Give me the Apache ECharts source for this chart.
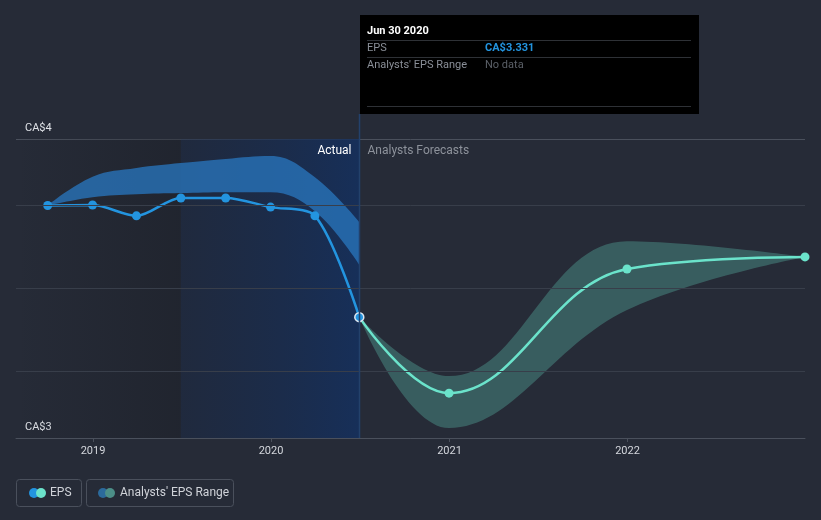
<!DOCTYPE html>
<html>
<head>
<meta charset="utf-8">
<script src="https://cdn.jsdelivr.net/npm/echarts@6/dist/echarts.min.js"></script>
<style>
html,body{margin:0;padding:0;background:#262b37;}
#c{width:821px;height:520px;}
</style>
</head>
<body>
<div id="c"></div>
<script>
// ---- data ----
var actualDates = ['2018-09-30','2018-12-31','2019-03-31','2019-06-30','2019-09-30','2019-12-31','2020-03-31','2020-06-30'];
var actualEps   = [3.600, 3.601, 3.575, 3.618, 3.618, 3.596, 3.575, 3.331];
var pastRangeLow  = [3.600, 3.620, 3.627, 3.630, 3.632, 3.632, 3.586, 3.457];
var pastRangeHigh = [3.600, 3.669, 3.690, 3.702, 3.712, 3.719, 3.668, 3.560];

var forecastDates = ['2020-06-30','2020-12-31','2021-12-31','2022-12-31'];
var forecastEps   = [3.331, 3.148, 3.447, 3.476];
var forecastLow   = [3.331, 3.064, 3.348, 3.476];
var forecastHigh  = [3.331, 3.189, 3.514, 3.476];

var yearTicks = ['2019-01-01','2020-01-01','2021-01-01','2022-01-01'];
var yMin = 3.04, yMax = 3.76;
var gridValues = [3.2, 3.4, 3.6];
var xMinDate = '2018-07-27', xMaxDate = '2022-12-31';
var nowDate = '2020-06-30';
var tooltipTitle = 'Jun 30 2020';
var tooltipEps = 'CA$3.331';

function ts(s){ var p = s.split('-'); return Date.UTC(+p[0], +p[1]-1, +p[2]); }
function pairs(d, v){ return d.map(function(x,i){ return [ts(x), v[i]]; }); }
function diffPairs(d, hi, lo){ return d.map(function(x,i){ return [ts(x), +(hi[i]-lo[i]).toFixed(4)]; }); }

var FONT = 'Roboto, "Noto Sans", sans-serif';
var chart = echarts.init(document.getElementById('c'), null, {renderer:'canvas'});

var actualData = pairs(actualDates, actualEps);
actualData[actualData.length-1] = {value: actualData[actualData.length-1], itemStyle:{borderColor:'#dce6f0', borderWidth:1.5}};
var fcData = pairs(forecastDates, forecastEps);
fcData[0] = {value: fcData[0], symbol:'none'};

var option = {
  backgroundColor: '#262b37',
  animation: false,
  grid: {left:16, right:16, top:139, bottom:82, containLabel:false},
  xAxis: [{
    type: 'value',
    min: ts(xMinDate), max: ts(xMaxDate),
    axisLine: {show:true, onZero:false, lineStyle:{color:'#4a505c', width:1}},
    axisTick: {show:true, length:4, lineStyle:{color:'#4a505c'}, customValues: yearTicks.map(ts)},
    axisLabel: {color:'#d4d7dd', fontSize:11, fontFamily:FONT, margin:8,
      customValues: yearTicks.map(ts),
      formatter: function(v){ return String(new Date(v).getUTCFullYear()); }},
    splitLine: {show:false}
  }, {
    type: 'time', show:false,
    min: ts(xMinDate), max: ts(xMaxDate),
    splitLine: {show:false}
  }],
  yAxis: {
    type: 'value', min: yMin, max: yMax, interval: +(yMax-yMin).toFixed(2),
    axisLine:{show:false}, axisTick:{show:false},
    axisLabel:{inside:true, margin:9, color:'#dfe2e7', fontSize:11, fontFamily:FONT,
      verticalAlign:'bottom', padding:[0,0,5,0],
      formatter:function(v){ return 'CA$' + Math.round(v); }},
    splitLine:{show:true, lineStyle:{color:'#4a505c', width:1}}
  },
  series: [
    {
      name:'pastLow', type:'line', stack:'past', xAxisIndex:1, z:1, smooth:0.4,
      data: pairs(actualDates, pastRangeLow), symbol:'none',
      lineStyle:{opacity:0}, silent:true,
      markArea: {
        silent:true,
        data: [
          [{xAxis: ts(xMinDate), itemStyle:{color:{type:'linear',x:0,y:0,x2:1,y2:0,colorStops:[{offset:0,color:'rgba(20,22,28,0)'},{offset:1,color:'rgba(20,22,28,0.3)'}]}}}, {xAxis: ts('2019-06-30')}],
          [{xAxis: ts('2019-06-30'), itemStyle:{color:{type:'linear',x:0,y:0,x2:1,y2:0,colorStops:[{offset:0,color:'rgba(24,40,70,0.45)'},{offset:1,color:'rgba(20,48,95,0.85)'}]}}}, {xAxis: ts(nowDate)}]
        ]
      },
      markLine: {
        silent:true, symbol:'none', label:{show:false},
        lineStyle:{color:'#383e4a', width:1, type:'solid'},
        data: gridValues.map(function(v){ return {yAxis:v}; })
      }
    },
    {
      name:'pastRange', type:'line', stack:'past', xAxisIndex:1, z:2, smooth:0.4,
      data: diffPairs(actualDates, pastRangeHigh, pastRangeLow), symbol:'none',
      lineStyle:{opacity:0}, areaStyle:{color:'rgba(40,115,185,0.8)', opacity:1}, silent:true
    },
    {
      name:'fcLow', type:'line', stack:'fc', xAxisIndex:1, z:2, smooth:0.4,
      data: pairs(forecastDates, forecastLow), symbol:'none',
      lineStyle:{opacity:0}, silent:true
    },
    {
      name:'fcRange', type:'line', stack:'fc', xAxisIndex:1, z:2, smooth:0.4,
      data: diffPairs(forecastDates, forecastHigh, forecastLow), symbol:'none',
      lineStyle:{opacity:0}, areaStyle:{color:'rgba(95,200,180,0.32)', opacity:1}, silent:true
    },
    {
      name:'Forecast EPS', type:'line', z:3, smooth:0.4,
      data: fcData, symbol:'circle', symbolSize:9, showSymbol:true,
      lineStyle:{color:'#6be3cb', width:2.5}, itemStyle:{color:'#6be3cb'}
    },
    {
      name:'EPS', type:'line', z:4, smooth:0.3,
      data: actualData, symbol:'circle', symbolSize:9, showSymbol:true,
      lineStyle:{color:'#2394df', width:2.5}, itemStyle:{color:'#2394df'}
    }
  ]
};
chart.setOption(option);

var nx = Math.round(chart.convertToPixel({xAxisIndex:0}, ts(nowDate))) + 0.5;
var lineC = '#2e3136';
chart.setOption({
  graphic: [
    {type:'line', shape:{x1:nx, y1:114, x2:nx, y2:438}, style:{stroke:'#23416b', lineWidth:1.5}, z:5, silent:true},
    {type:'text', x:nx-8, y:151, style:{text:'Actual', fill:'#ffffff', font:'12px '+FONT, align:'right', verticalAlign:'middle'}, z:6},
    {type:'text', x:nx+8, y:151, style:{text:'Analysts Forecasts', fill:'#8d929b', font:'12px '+FONT, align:'left', verticalAlign:'middle'}, z:6},
    // tooltip
    {type:'rect', shape:{x:360, y:15, width:339, height:99}, style:{fill:'#000000'}, z:10},
    {type:'text', x:367, y:31, style:{text:tooltipTitle, fill:'#ffffff', font:'bold 11px '+FONT, verticalAlign:'middle'}, z:11},
    {type:'line', shape:{x1:367, y1:40.5, x2:691, y2:40.5}, style:{stroke:lineC, lineWidth:1}, z:11},
    {type:'text', x:367, y:48, style:{text:'EPS', fill:'#8a8f98', font:'11px '+FONT, verticalAlign:'middle'}, z:11},
    {type:'text', x:485, y:48, style:{text:tooltipEps, fill:'#2394df', font:'bold 11px '+FONT, verticalAlign:'middle'}, z:11},
    {type:'line', shape:{x1:367, y1:57.5, x2:691, y2:57.5}, style:{stroke:lineC, lineWidth:1}, z:11},
    {type:'text', x:367, y:65, style:{text:"Analysts' EPS Range", fill:'#8a8f98', font:'11px '+FONT, verticalAlign:'middle'}, z:11},
    {type:'text', x:485, y:65, style:{text:'No data', fill:'#5b6068', font:'11px '+FONT, verticalAlign:'middle'}, z:11},
    {type:'line', shape:{x1:367, y1:106.5, x2:691, y2:106.5}, style:{stroke:lineC, lineWidth:1}, z:11},
    // legend
    {type:'rect', shape:{x:16.5, y:479.5, width:65, height:27, r:3}, style:{fill:'none', stroke:'#4a505c', lineWidth:1}, z:10},
    {type:'circle', shape:{cx:34, cy:493, r:5}, style:{fill:'#2394df'}, z:11},
    {type:'circle', shape:{cx:41, cy:493, r:5}, style:{fill:'#6be3cb'}, z:12},
    {type:'text', x:50, y:493, style:{text:'EPS', fill:'#d0d3d9', font:'12px '+FONT, verticalAlign:'middle'}, z:11},
    {type:'rect', shape:{x:86.5, y:479.5, width:147, height:27, r:3}, style:{fill:'none', stroke:'#4a505c', lineWidth:1}, z:10},
    {type:'circle', shape:{cx:103, cy:493, r:5}, style:{fill:'#2b6a9c'}, z:11},
    {type:'circle', shape:{cx:110, cy:493, r:5}, style:{fill:'#4c8f88'}, z:12},
    {type:'text', x:120, y:493, style:{text:"Analysts' EPS Range", fill:'#d0d3d9', font:'12px '+FONT, verticalAlign:'middle'}, z:11}
  ]
});
</script>
</body>
</html>
